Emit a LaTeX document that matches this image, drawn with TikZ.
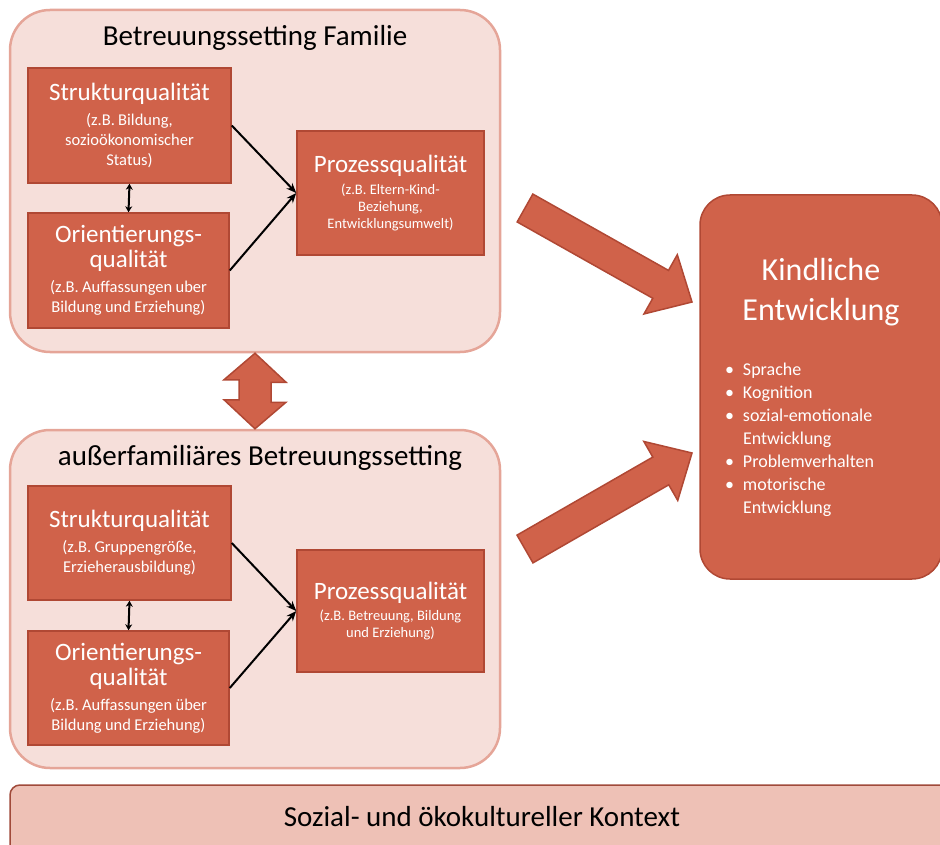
\documentclass[tikz,border=0pt]{standalone}
\usepackage{fontspec}
\setmainfont{Carlito}
\usetikzlibrary{arrows.meta,calc}

\definecolor{boxred}{RGB}{208,98,74}
\definecolor{boxedge}{RGB}{176,72,52}
\definecolor{settfill}{RGB}{246,223,218}
\definecolor{settedge}{RGB}{229,165,152}
\definecolor{ctxfill}{RGB}{238,193,182}
\definecolor{ctxedge}{RGB}{160,74,58}

\newcommand\settitle{\fontsize{29}{34}\selectfont}
\newcommand\qtitle{\fontsize{25}{25}\selectfont}
\newcommand\qsub{\fontsize{16.5}{20}\selectfont}
\newcommand\psub{\fontsize{14.5}{17}\selectfont}
\newcommand\ktitle{\fontsize{32}{40}\selectfont}
\newcommand\klist{\fontsize{18}{23}\selectfont}
\newcommand\kitem{\hangindent=18pt\hangafter=1\noindent\makebox[18pt][l]{\textbullet}}

\newcommand\bigarrow[2]{%
  \coordinate (hb#1) at ($(#2)!36pt!(#1)$);
  \draw[bigarrow] ($(#1)!16pt!90:(#2)$) -- ($(hb#1)!16pt!90:(#2)$)
    -- ($(hb#1)!34pt!90:(#2)$) -- (#2) -- ($(hb#1)!34pt!-90:(#2)$)
    -- ($(hb#1)!16pt!-90:(#2)$) -- ($(#1)!16pt!-90:(#2)$) -- cycle;}

\tikzset{
  setting/.style={draw=settedge, fill=settfill, line width=2.5pt, rounded corners=40pt,
    minimum width=490pt, inner sep=0pt},
  quali/.style={draw=boxedge, fill=boxred, line width=1.5pt, text=white, align=center,
    inner sep=0pt},
  qarrow/.style={line width=2pt, -{Stealth[length=10pt,width=8pt]}},
  qdouble/.style={line width=2pt, {Stealth[length=6pt,width=7pt]}-{Stealth[length=6pt,width=7pt]}},
  bigarrow/.style={draw=boxedge, fill=boxred, line width=1.5pt, line join=miter},
  ctxbar/.style={draw=ctxedge, fill=ctxfill, line width=1.5pt, rounded corners=10pt},
}

\begin{document}
\begin{tikzpicture}[x=1pt, y=-1pt]
    \useasboundingbox (0,0) rectangle (940,845);
    \clip (0,0) rectangle (940,845);

    \node[setting, minimum height=342pt] (fam) at (255,181) {};
    \node[font=\settitle] (famtitle) at (255,38) {Betreuungssetting Familie};
    \node[quali, minimum width=203pt, minimum height=115pt, text width=194pt] (s1) at (129.5,125.5)
        {\qtitle Strukturqualität\par\vspace{5pt}\qsub (z.B. Bildung,\\ sozioökonomischer\\ Status)\par};
    \node[quali, minimum width=201pt, minimum height=115pt, text width=194pt] (o1) at (128.5,270.5)
        {\qtitle Orientierungs-\\ qualität\par\vspace{5pt}\qsub (z.B. Auffassungen uber\\ Bildung und Erziehung)\par};
    \node[quali, minimum width=187pt, minimum height=124pt, text width=180pt] (p1) at (390.5,193)
        {\qtitle Prozessqualität\par\vspace{5pt}\psub (z.B. Eltern-Kind-\\ Beziehung,\\ Entwicklungsumwelt)\par};
    \draw[qdouble] (s1.south) -- (o1.north);
    \draw[qarrow] (s1.east) -- (p1.west);
    \draw[qarrow] (o1.east) -- (p1.west);

    \node[setting, minimum height=338pt] (ext) at (255,599) {};
    \node[font=\settitle] (exttitle) at (260,458) {außerfamiliäres Betreuungssetting};
    \node[quali, minimum width=203pt, minimum height=114pt, text width=194pt] (s2) at (129.5,543)
        {\qtitle Strukturqualität\par\vspace{5pt}\qsub (z.B. Gruppengröße,\\ Erzieherausbildung)\par};
    \node[quali, minimum width=201pt, minimum height=114pt, text width=194pt] (o2) at (128.5,688)
        {\qtitle Orientierungs-\\ qualität\par\vspace{5pt}\qsub (z.B. Auffassungen über\\ Bildung und Erziehung)\par};
    \node[quali, minimum width=187pt, minimum height=122pt, text width=180pt] (p2) at (390.5,611)
        {\qtitle Prozessqualität\par\vspace{4pt}\psub (z.B. Betreuung, Bildung\\ und Erziehung)\par};
    \draw[qdouble] (s2.south) -- (o2.north);
    \draw[qarrow] (s2.east) -- (p2.west);
    \draw[qarrow] (o2.east) -- (p2.west);

    \draw[bigarrow] (fam.south) -- ++(31,29) -- ++(-15,0) -- ++(0,20) -- ++(15,0) -- (ext.north)
        -- ++(-31,-29) -- ++(15,0) -- ++(0,-20) -- ++(-15,0) -- cycle;

    \node[quali, rounded corners=30pt, minimum width=242pt, minimum height=384pt, text width=192pt]
        (kind) at (821,387)
        {\ktitle Kindliche\\ Entwicklung\par\vspace{32pt}\klist\raggedright
        \kitem Sprache\par
        \kitem Kognition\par
        \kitem sozial-emotionale\newline Entwicklung\par
        \kitem Problemverhalten\par
        \kitem motorische\newline Entwicklung\par};

    \coordinate (ta) at (525,208);
    \coordinate (tb) at (692,302);
    \coordinate (tc) at (525,549);
    \coordinate (td) at (692,453);
    \bigarrow{ta}{tb}
    \bigarrow{tc}{td}

    \draw[ctxbar] (10,785) rectangle (990,900);
    \node[font=\fontsize{29}{32}\selectfont] (ctx) at (482,817) {Sozial- und ökokultureller Kontext};
\end{tikzpicture}
\end{document}
